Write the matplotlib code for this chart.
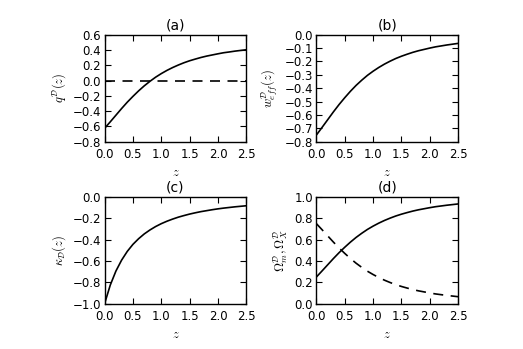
import numpy as np
import matplotlib
matplotlib.use("Agg")
import matplotlib.pyplot as plt
from matplotlib.ticker import FuncFormatter

z = [0.0, 0.1, 0.2, 0.3, 0.4, 0.5, 0.6, 0.7, 0.8, 0.9, 1.0, 1.1, 1.2, 1.3,
     1.4, 1.5, 1.6, 1.7, 1.8, 1.9, 2.0, 2.1, 2.2, 2.3, 2.4, 2.5]

q_D = [-0.625, -0.540, -0.453, -0.366, -0.283, -0.207, -0.135, -0.069, -0.010,
       0.044, 0.091, 0.133, 0.170, 0.203, 0.233, 0.259, 0.281, 0.302, 0.320,
       0.335, 0.350, 0.364, 0.374, 0.385, 0.394, 0.403]

w_eff = [-0.750, -0.693, -0.635, -0.577, -0.522, -0.471, -0.423, -0.379, -0.340,
         -0.304, -0.273, -0.245, -0.220, -0.198, -0.178, -0.161, -0.146, -0.132,
         -0.120, -0.110, -0.100, -0.091, -0.084, -0.077, -0.071, -0.065]

kappa_D = [-1.000, -0.826, -0.694, -0.592, -0.510, -0.444, -0.391, -0.346, -0.309,
           -0.277, -0.250, -0.227, -0.207, -0.189, -0.174, -0.160, -0.148, -0.137,
           -0.128, -0.119, -0.111, -0.104, -0.098, -0.092, -0.087, -0.082]

omega_m = [0.250, 0.307, 0.365, 0.423, 0.478, 0.529, 0.577, 0.621, 0.660, 0.696,
           0.727, 0.755, 0.780, 0.802, 0.822, 0.839, 0.854, 0.868, 0.880, 0.890,
           0.900, 0.909, 0.916, 0.923, 0.929, 0.935]

omega_x = [0.750, 0.693, 0.635, 0.577, 0.522, 0.471, 0.423, 0.379, 0.340, 0.304,
           0.273, 0.245, 0.220, 0.198, 0.178, 0.161, 0.146, 0.132, 0.120, 0.110,
           0.100, 0.091, 0.084, 0.077, 0.071, 0.065]

zero_line = [0.0, 0.0]
zero_z = [0.0, 2.5]

plt.rcParams.update({
    "font.family": "DejaVu Sans",
    "font.size": 8.5,
    "xtick.direction": "in",
    "ytick.direction": "in",
    "xtick.top": True,
    "ytick.right": True,
    "xtick.major.size": 4,
    "ytick.major.size": 4,
    "xtick.major.pad": 4.5,
    "ytick.major.pad": 2.5,
    "axes.linewidth": 1.0,
    "mathtext.fontset": "cm",
})


def fmt(v, pos):
    s = f"{v:.1f}"
    if s == "-0.0":
        s = "0.0"
    return s.replace("-", "\u2212")


fig = plt.figure(figsize=(5.23, 3.49), dpi=100)
fig.patch.set_facecolor("white")

L1, R1, L2, R2 = 0.200, 0.471, 0.605, 0.876
T1, B1, T2, B2 = 0.9006, 0.594, 0.4355, 0.130

ax_a = fig.add_axes([L1, B1, R1 - L1, T1 - B1])
ax_b = fig.add_axes([L2, B1, R2 - L2, T1 - B1])
ax_c = fig.add_axes([L1, B2, R1 - L1, T2 - B2])
ax_d = fig.add_axes([L2, B2, R2 - L2, T2 - B2])

dash = (0, (6, 4.5))
lab = 9
tit = 10

ax_a.plot(z, q_D, color="k", lw=1.2)
ax_a.plot(zero_z, zero_line, color="k", lw=1.2, linestyle=dash)
ax_a.set_ylim(-0.8, 0.6)
ax_a.set_yticks(np.arange(-0.8, 0.61, 0.2))
ax_a.set_ylabel(r"$q^{\mathcal{D}}(z)$", fontsize=lab, labelpad=3)
ax_a.set_title("(a)", fontsize=tit, pad=4)

ax_b.plot(z, w_eff, color="k", lw=1.2)
ax_b.set_ylim(-0.8, 0.0)
ax_b.set_yticks(np.arange(-0.8, 0.01, 0.1))
ax_b.set_ylabel(r"$w^{\mathcal{D}}_{eff}(z)$", fontsize=lab, labelpad=3)
ax_b.set_title("(b)", fontsize=tit, pad=4)

ax_c.plot(z, kappa_D, color="k", lw=1.2)
ax_c.set_ylim(-1.0, 0.0)
ax_c.set_yticks(np.arange(-1.0, 0.01, 0.2))
ax_c.set_ylabel(r"$\kappa_{\mathcal{D}}(z)$", fontsize=lab, labelpad=3)
ax_c.set_title("(c)", fontsize=tit, pad=4)

ax_d.plot(z, omega_m, color="k", lw=1.2)
ax_d.plot(z, omega_x, color="k", lw=1.2, linestyle=dash)
ax_d.set_ylim(0.0, 1.0)
ax_d.set_yticks(np.arange(0.0, 1.01, 0.2))
ax_d.set_ylabel(r"$\Omega^{\mathcal{D}}_{m},\Omega^{\mathcal{D}}_{X}$", fontsize=lab, labelpad=3)
ax_d.set_title("(d)", fontsize=tit, pad=4)

for ax in (ax_a, ax_b, ax_c, ax_d):
    ax.set_xlim(0.0, 2.5)
    ax.set_xticks(np.arange(0.0, 2.51, 0.5))
    ax.set_xlabel(r"$z$", fontsize=lab, labelpad=4)
    ax.yaxis.set_major_formatter(FuncFormatter(fmt))
    ax.xaxis.set_major_formatter(FuncFormatter(fmt))

fig.savefig("out.png", dpi=100, facecolor="white")
